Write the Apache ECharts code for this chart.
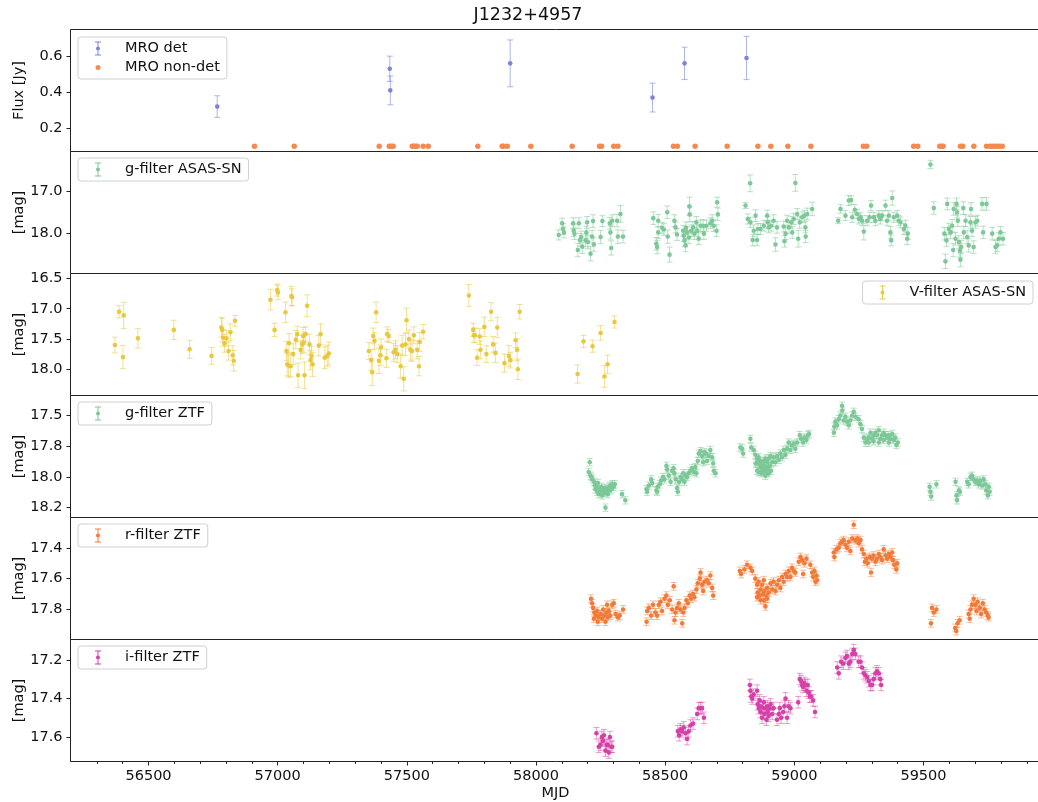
<!DOCTYPE html>
<html><head><meta charset="utf-8">
<script src="https://cdn.jsdelivr.net/npm/echarts@6/dist/echarts.min.js"></script>
<style>html,body{margin:0;padding:0;overflow:hidden;background:#fff}#c{width:1056px;height:802px}</style>
</head><body><div id="c"></div>
<script>
// ---------- DATA ----------
const title = 'J1232+4957';
const xMajorTicks = [56500, 57000, 57500, 58000, 58500, 59000, 59500];

// MRO detections [MJD, flux Jy, err]
const mroDet = [[56766,0.32,0.06],[57434,0.53,0.07],[57436,0.41,0.08],[57900,0.56,0.13],[58451,0.37,0.08],[58575,0.56,0.09],[58815,0.59,0.12]];
// MRO non-detections [MJD, flux Jy]
const mroNonDet = [[56910,0.1],[57064,0.1],[57393,0.1],[57432,0.1],[57440,0.1],[57447,0.1],[57521,0.1],[57527,0.1],[57534,0.1],[57540,0.1],[57563,0.1],[57583,0.1],[57775,0.1],[57869,0.1],[57875,0.1],[57889,0.1],[57980,0.1],[58140,0.1],[58246,0.1],[58254,0.1],[58301,0.1],[58317,0.1],[58532,0.1],[58547,0.1],[58616,0.1],[58740,0.1],[58859,0.1],[58909,0.1],[58975,0.1],[59064,0.1],[59267,0.1],[59280,0.1],[59462,0.1],[59478,0.1],[59563,0.1],[59570,0.1],[59576,0.1],[59643,0.1],[59652,0.1],[59695,0.1],[59744,0.1],[59757,0.1],[59766,0.1],[59775,0.1],[59785,0.1],[59795,0.1],[59805,0.1]];

// g-filter ASAS-SN [MJD, mag, err]
const gAsasSN = [
[58088,18.04,0.12],[58101,17.76,0.12],[58105,17.90,0.13],[58108,17.98,0.13],[58144,17.76,0.13],[58146,17.94,0.14],[58149,18.01,0.14],[58162,18.40,0.16],[58166,17.76,0.13],[58170,18.16,0.15],[58175,18.09,0.14],[58179,18.32,0.16],[58192,18.17,0.15],[58195,17.98,0.15],[58198,17.74,0.14],[58201,18.21,0.16],[58211,18.49,0.17],[58217,18.08,0.15],[58221,17.71,0.15],[58224,18.27,0.16],[58250,18.09,0.16],[58257,17.71,0.13],[58286,17.76,0.14],[58288,17.98,0.16],[58291,18.35,0.17],[58295,17.70,0.14],[58314,17.70,0.15],[58317,18.08,0.16],[58327,17.54,0.2],[58337,18.08,0.15],
[58454,17.64,0.15],[58466,18.25,0.15],[58469,18.33,0.16],[58473,17.70,0.15],[58473,17.98,0.14],[58488,17.87,0.13],[58495,17.91,0.14],[58508,17.50,0.15],[58510,18.08,0.16],[58517,18.51,0.18],[58536,17.70,0.14],[58540,17.86,0.13],[58546,18.03,0.14],[58570,17.94,0.13],[58572,18.06,0.14],[58575,18.17,0.15],[58579,18.29,0.15],[58581,17.87,0.14],[58585,17.98,0.14],[58592,18.10,0.15],[58594,17.36,0.22],[58595,17.55,0.18],[58601,17.94,0.14],[58608,17.86,0.14],[58613,18.01,0.14],[58621,17.74,0.14],[58624,17.94,0.14],[58630,18.13,0.14],[58637,17.82,0.14],[58647,17.82,0.14],[58650,18.01,0.14],[58660,17.82,0.13],[58675,17.76,0.13],[58682,17.70,0.14],[58688,17.82,0.14],[58699,17.94,0.14],[58701,17.26,0.12],[58704,17.55,0.15],
[58811,17.34,0.07],[58820,17.66,0.12],[58829,16.81,0.2],[58830,17.74,0.12],[58839,18.16,0.14],[58843,17.94,0.14],[58850,17.58,0.14],[58856,18.16,0.14],[58859,17.90,0.13],[58869,17.90,0.13],[58882,17.82,0.13],[58895,17.58,0.13],[58897,17.74,0.14],[58901,17.86,0.13],[58910,17.82,0.13],[58920,17.70,0.14],[58927,18.27,0.16],[58933,17.86,0.14],[58959,17.84,0.13],[58962,18.19,0.14],[58966,18.01,0.14],[58972,17.70,0.13],[58979,17.86,0.14],[58988,17.74,0.14],[58992,17.98,0.14],[58998,17.66,0.13],[59004,16.80,0.2],[59011,17.54,0.13],[59015,18.13,0.2],[59021,17.74,0.14],[59030,17.62,0.13],[59039,17.58,0.13],[59043,17.86,0.13],[59044,18.08,0.14],[59050,17.54,0.14],[59069,17.42,0.16],
[59170,17.70,0.07],[59179,17.42,0.1],[59198,17.58,0.12],[59211,17.22,0.12],[59220,17.21,0.1],[59224,17.62,0.12],[59234,17.44,0.12],[59243,17.54,0.11],[59250,17.66,0.12],[59256,17.62,0.12],[59263,17.70,0.12],[59269,17.96,0.2],[59282,17.70,0.12],[59292,17.62,0.12],[59297,17.34,0.12],[59308,17.62,0.12],[59314,17.70,0.12],[59327,17.58,0.12],[59333,17.66,0.12],[59340,17.58,0.12],[59353,17.34,0.13],[59359,17.70,0.12],[59366,17.58,0.12],[59372,17.98,0.14],[59375,18.17,0.13],[59379,17.16,0.17],[59385,17.62,0.12],[59398,17.58,0.12],[59404,17.70,0.12],[59411,17.74,0.13],[59424,17.90,0.13],[59430,17.82,0.13],[59437,18.13,0.14],[59439,18.01,0.14],
[59527,16.36,0.1],[59540,17.40,0.15],[59581,18.01,0.15],[59585,18.67,0.17],[59589,18.17,0.15],[59592,17.30,0.14],[59598,17.90,0.14],[59605,17.98,0.15],[59611,17.82,0.15],[59615,18.40,0.16],[59617,17.42,0.15],[59624,18.13,0.15],[59628,17.30,0.14],[59630,17.50,0.14],[59633,17.70,0.14],[59637,18.21,0.15],[59641,18.41,0.16],[59643,18.63,0.17],[59646,18.33,0.16],[59654,17.40,0.15],[59656,17.98,0.15],[59663,17.70,0.14],[59669,18.09,0.15],[59675,18.29,0.16],[59682,17.74,0.14],[59684,17.42,0.15],[59688,17.94,0.14],[59694,18.33,0.15],[59701,17.74,0.14],[59708,17.70,0.13],[59727,17.30,0.15],[59731,17.98,0.15],[59744,17.30,0.15],[59766,18.01,0.15],[59779,18.33,0.16],[59785,18.29,0.15],[59792,18.13,0.15],[59798,17.98,0.14],[59808,18.13,0.15]
];

// V-filter ASAS-SN [MJD, mag, err]
const vAsasSN = [
[56370,17.60,0.13],[56386,17.05,0.1],[56401,17.80,0.19],[56404,17.11,0.22],[56459,17.49,0.16],[56598,17.35,0.16],[56659,17.67,0.15],[56744,17.78,0.14],[56782,17.31,0.16],[56785,17.35,0.2],[56789,17.48,0.14],[56794,17.57,0.15],[56802,17.49,0.13],[56810,17.70,0.15],[56817,17.39,0.14],[56826,17.77,0.16],[56830,17.86,0.17],[56835,17.20,0.09],
[56972,16.85,0.17],[56988,17.35,0.11],[56998,16.69,0.1],[57001,16.73,0.12],[57030,17.06,0.17],[57034,17.70,0.16],[57037,17.92,0.19],[57042,17.94,0.19],[57044,17.57,0.16],[57050,17.95,0.18],[57053,16.79,0.16],[57056,16.81,0.14],[57060,17.75,0.17],[57070,17.51,0.15],[57076,17.42,0.13],[57079,18.10,0.2],[57089,17.68,0.15],[57095,17.59,0.15],[57099,17.45,0.14],[57101,17.56,0.16],[57104,18.10,0.22],[57108,17.42,0.12],[57114,16.95,0.18],[57123,17.59,0.17],[57127,17.85,0.16],[57131,17.78,0.16],[57135,17.92,0.2],[57159,17.61,0.17],[57166,17.42,0.17],[57182,17.81,0.18],[57192,17.78,0.18],[57198,17.74,0.19],
[57353,17.70,0.14],[57362,17.85,0.17],[57366,18.05,0.22],[57370,17.45,0.13],[57375,17.53,0.14],[57381,17.06,0.17],[57392,17.86,0.21],[57398,17.77,0.17],[57400,17.64,0.14],[57421,17.82,0.15],[57424,17.42,0.12],[57430,17.45,0.11],[57449,17.72,0.15],[57456,17.68,0.15],[57463,17.75,0.14],[57476,17.95,0.2],[57482,17.61,0.17],[57488,18.16,0.2],[57495,17.59,0.18],[57499,17.19,0.2],[57508,17.50,0.15],[57514,17.68,0.17],[57520,17.70,0.17],[57527,17.44,0.14],[57540,17.68,0.15],[57547,17.95,0.16],[57550,17.55,0.16],[57563,17.38,0.12],
[57740,16.78,0.18],[57757,17.35,0.11],[57759,17.44,0.12],[57764,17.44,0.12],[57772,17.81,0.13],[57782,17.46,0.13],[57785,17.68,0.15],[57800,17.30,0.16],[57808,17.75,0.14],[57826,17.05,0.15],[57834,17.59,0.13],[57843,17.73,0.16],[57850,17.31,0.17],[57878,17.90,0.15],[57895,17.78,0.17],[57901,17.85,0.13],[57921,17.52,0.12],[57927,17.68,0.18],[57930,18.00,0.17],[57937,17.05,0.12],
[58161,18.08,0.15],[58184,17.54,0.1],[58219,17.62,0.1],[58250,17.40,0.12],[58265,18.12,0.18],[58277,17.92,0.15],[58304,17.22,0.1]
];

// g-filter ZTF [MJD, mag, err]
const gZTF = [
[58208,17.88,0.03],[58204,17.96,0.03],[58211,17.99,0.03],[58215,18.00,0.03],[58218,18.02,0.03],[58225,18.04,0.03],[58228,18.07,0.03],[58230,18.10,0.03],[58234,18.08,0.03],[58237,18.12,0.03],[58240,18.05,0.03],[58243,18.14,0.03],[58246,18.10,0.03],[58250,18.12,0.03],[58253,18.08,0.03],[58256,18.15,0.03],[58260,18.11,0.03],[58263,18.13,0.03],[58266,18.09,0.03],[58269,18.25,0.03],[58272,18.12,0.03],[58275,18.10,0.03],[58278,18.14,0.03],[58282,18.08,0.03],[58285,18.11,0.03],[58288,18.07,0.03],[58292,18.10,0.03],[58295,18.06,0.03],[58301,18.08,0.03],[58305,18.06,0.03],[58333,18.14,0.03],[58346,18.19,0.03],
[58428,18.10,0.03],[58430,18.12,0.03],[58437,18.07,0.03],[58446,18.02,0.03],[58450,18.05,0.03],[58466,18.11,0.03],[58469,18.12,0.03],[58471,18.08,0.03],[58479,18.06,0.03],[58484,18.03,0.03],[58492,18.00,0.03],[58497,18.02,0.03],[58505,17.91,0.03],[58508,17.94,0.03],[58514,17.99,0.03],[58521,18.04,0.03],[58527,17.95,0.03],[58533,17.93,0.03],[58536,17.97,0.03],[58541,18.02,0.03],[58546,18.09,0.03],[58549,18.12,0.03],[58554,18.04,0.03],[58559,18.00,0.03],[58566,18.02,0.03],[58570,17.97,0.03],[58575,18.04,0.03],[58579,17.99,0.03],[58585,18.00,0.03],[58591,17.97,0.03],[58598,17.95,0.03],[58604,17.93,0.03],[58611,17.96,0.03],[58617,17.92,0.03],[58621,17.97,0.03],[58626,17.87,0.03],[58630,17.81,0.03],[58637,17.79,0.03],[58643,17.83,0.03],[58647,17.88,0.03],[58652,17.80,0.03],[58657,17.81,0.03],[58662,17.87,0.03],[58669,17.83,0.03],[58675,17.78,0.03],[58682,17.84,0.03],[58686,17.89,0.03],[58688,17.95,0.03],[58695,17.97,0.03],
[58791,17.76,0.03],[58798,17.77,0.03],[58802,17.81,0.03],[58830,17.69,0.03],[58833,17.76,0.03],[58843,17.78,0.03],[58849,17.82,0.03],[58856,17.85,0.03],[58858,17.88,0.03],[58862,17.84,0.03],[58866,17.90,0.03],[58869,17.87,0.03],[58871,17.92,0.03],[58875,17.89,0.03],[58879,17.94,0.03],[58882,17.91,0.03],[58886,17.95,0.03],[58888,17.99,0.03],[58892,17.92,0.03],[58895,17.88,0.03],[58897,17.93,0.03],[58901,17.85,0.03],[58905,17.91,0.03],[58908,17.83,0.03],[58914,17.88,0.03],[58920,17.84,0.03],[58927,17.88,0.03],[58933,17.83,0.03],[58940,17.86,0.03],[58946,17.81,0.03],[58953,17.84,0.03],[58959,17.78,0.03],[58966,17.82,0.03],[58972,17.77,0.03],[58978,17.72,0.03],[58985,17.78,0.03],[58991,17.74,0.03],[58998,17.73,0.03],[59004,17.77,0.03],[59011,17.72,0.03],[59021,17.66,0.03],[59026,17.69,0.03],[59034,17.72,0.03],[59039,17.68,0.03],[59047,17.70,0.03],[59052,17.66,0.03],[59057,17.65,0.03],
[58850,17.89,0.03],[58856,17.95,0.03],[58862,17.96,0.03],[58869,17.96,0.03],[58875,17.97,0.03],[58882,17.87,0.03],[58888,17.85,0.03],[58895,17.96,0.03],[58901,17.97,0.03],[58910,17.95,0.03],
[59153,17.64,0.03],[59155,17.59,0.03],[59159,17.55,0.03],[59166,17.58,0.03],[59172,17.53,0.03],[59178,17.50,0.03],[59185,17.42,0.03],[59186,17.46,0.03],[59191,17.54,0.03],[59198,17.51,0.03],[59204,17.55,0.03],[59211,17.58,0.03],[59217,17.54,0.03],[59224,17.50,0.03],[59230,17.47,0.03],[59237,17.51,0.03],[59249,17.53,0.03],[59256,17.57,0.03],[59262,17.61,0.03],[59269,17.68,0.03],[59275,17.72,0.03],[59282,17.69,0.03],[59288,17.68,0.03],[59295,17.64,0.03],[59301,17.69,0.03],[59307,17.66,0.03],[59314,17.64,0.03],[59320,17.66,0.03],[59327,17.62,0.03],[59333,17.69,0.03],[59340,17.66,0.03],[59346,17.64,0.03],[59353,17.66,0.03],[59359,17.68,0.03],[59366,17.66,0.03],[59372,17.69,0.03],[59379,17.65,0.03],[59385,17.70,0.03],[59391,17.68,0.03],[59395,17.74,0.03],[59401,17.72,0.03],[59288,17.72,0.03],[59307,17.71,0.03],[59327,17.72,0.03],[59346,17.70,0.03],[59366,17.72,0.03],
[59524,18.08,0.03],[59527,18.12,0.03],[59530,18.16,0.03],[59550,18.06,0.03],[59624,18.04,0.03],[59628,18.15,0.03],[59630,18.19,0.03],[59637,18.11,0.03],[59641,18.12,0.03],[59669,18.04,0.03],[59675,18.06,0.03],[59682,18.00,0.03],[59688,17.99,0.03],[59694,18.02,0.03],[59701,18.04,0.03],[59708,18.03,0.03],[59714,18.06,0.03],[59720,18.03,0.03],[59727,18.07,0.03],[59733,18.02,0.03],[59740,18.06,0.03],[59743,18.11,0.03],[59749,18.15,0.03],[59753,18.08,0.03],[59756,18.12,0.03]
];

// r-filter ZTF [MJD, mag, err]
const rZTF = [
[58213,17.73,0.025],[58217,17.76,0.025],[58221,17.79,0.025],[58226,17.82,0.025],[58232,17.84,0.025],[58237,17.81,0.025],[58243,17.85,0.025],[58250,17.83,0.025],[58256,17.86,0.025],[58263,17.84,0.025],[58269,17.88,0.025],[58273,17.82,0.025],[58278,17.85,0.025],[58282,17.81,0.025],[58288,17.84,0.025],[58295,17.77,0.025],[58301,17.76,0.025],[58308,17.83,0.025],[58317,17.85,0.025],[58324,17.84,0.025],[58337,17.80,0.025],[58224,17.86,0.025],[58239,17.88,0.025],[58260,17.80,0.025],[58275,17.77,0.025],
[58428,17.88,0.025],[58430,17.81,0.025],[58437,17.79,0.025],[58446,17.84,0.025],[58453,17.77,0.025],[58462,17.82,0.025],[58469,17.84,0.025],[58475,17.77,0.025],[58482,17.75,0.025],[58488,17.81,0.025],[58497,17.73,0.025],[58505,17.71,0.025],[58510,17.77,0.025],[58518,17.74,0.025],[58527,17.80,0.025],[58533,17.65,0.025],[58536,17.87,0.025],[58540,17.82,0.025],[58546,17.79,0.025],[58553,17.76,0.025],[58559,17.80,0.025],[58566,17.89,0.025],[58570,17.82,0.025],[58575,17.79,0.025],[58582,17.74,0.025],[58588,17.76,0.025],[58595,17.71,0.025],[58600,17.73,0.025],[58608,17.70,0.025],[58613,17.72,0.025],[58621,17.67,0.025],[58626,17.63,0.025],[58634,17.60,0.025],[58637,17.56,0.025],[58643,17.64,0.025],[58647,17.68,0.025],[58652,17.62,0.025],[58662,17.61,0.025],[58669,17.63,0.025],[58675,17.58,0.025],[58682,17.66,0.025],[58686,17.71,0.025],
[58789,17.55,0.025],[58794,17.57,0.025],[58807,17.54,0.025],[58817,17.51,0.025],[58830,17.53,0.025],[58837,17.55,0.025],[58849,17.60,0.025],[58856,17.64,0.025],[58858,17.69,0.025],[58862,17.62,0.025],[58866,17.71,0.025],[58869,17.67,0.025],[58875,17.64,0.025],[58879,17.70,0.025],[58882,17.74,0.025],[58884,17.68,0.025],[58888,17.78,0.025],[58892,17.71,0.025],[58895,17.66,0.025],[58901,17.69,0.025],[58908,17.63,0.025],[58914,17.67,0.025],[58920,17.62,0.025],[58927,17.68,0.025],[58933,17.64,0.025],[58940,17.61,0.025],[58946,17.66,0.025],[58953,17.59,0.025],[58959,17.62,0.025],[58966,17.57,0.025],[58972,17.59,0.025],[58978,17.55,0.025],[58985,17.59,0.025],[58991,17.53,0.025],[58998,17.55,0.025],[59004,17.56,0.025],[59017,17.49,0.025],[59024,17.46,0.025],[59030,17.48,0.025],[59034,17.57,0.025],[59039,17.50,0.025],[59047,17.47,0.025],[59062,17.51,0.025],[59069,17.56,0.025],[59073,17.59,0.025],[59078,17.55,0.025],[59082,17.62,0.025],[59086,17.58,0.025],[59088,17.61,0.025],[58856,17.72,0.025],[58869,17.74,0.025],[58882,17.61,0.025],[58895,17.73,0.025],
[59153,17.43,0.025],[59155,17.46,0.025],[59163,17.41,0.025],[59172,17.40,0.025],[59178,17.37,0.025],[59185,17.36,0.025],[59191,17.35,0.025],[59198,17.38,0.025],[59204,17.40,0.025],[59211,17.36,0.025],[59217,17.42,0.025],[59224,17.34,0.025],[59230,17.25,0.025],[59236,17.35,0.025],[59245,17.34,0.025],[59249,17.37,0.025],[59256,17.35,0.025],[59262,17.41,0.025],[59269,17.44,0.025],[59273,17.49,0.025],[59279,17.47,0.025],[59284,17.50,0.025],[59292,17.46,0.025],[59297,17.56,0.025],[59301,17.47,0.025],[59307,17.45,0.025],[59314,17.49,0.025],[59320,17.47,0.025],[59327,17.44,0.025],[59333,17.46,0.025],[59340,17.48,0.025],[59346,17.41,0.025],[59353,17.45,0.025],[59359,17.47,0.025],[59366,17.44,0.025],[59372,17.46,0.025],[59379,17.43,0.025],[59382,17.48,0.025],[59387,17.51,0.025],[59395,17.54,0.025],[59398,17.50,0.025],
[59529,17.89,0.025],[59533,17.79,0.025],[59540,17.82,0.025],[59550,17.80,0.025],[59623,17.92,0.025],[59627,17.94,0.025],[59632,17.89,0.025],[59640,17.87,0.025],[59675,17.83,0.025],[59679,17.86,0.025],[59682,17.80,0.025],[59688,17.77,0.025],[59694,17.73,0.025],[59701,17.77,0.025],[59705,17.81,0.025],[59710,17.75,0.025],[59718,17.79,0.025],[59723,17.83,0.025],[59730,17.76,0.025],[59736,17.80,0.025],[59743,17.82,0.025],[59749,17.84,0.025],[59752,17.85,0.025]
];

// i-filter ZTF [MJD, mag, err]
const iZTF = [
[58234,17.58,0.03],[58243,17.65,0.03],[58250,17.64,0.03],[58255,17.60,0.03],[58260,17.62,0.03],[58263,17.59,0.03],[58269,17.67,0.03],[58273,17.64,0.03],[58278,17.64,0.03],[58282,17.68,0.03],[58286,17.60,0.03],[58291,17.65,0.03],[58295,17.65,0.03],
[58549,17.57,0.03],[58554,17.59,0.03],[58559,17.56,0.03],[58566,17.57,0.03],[58572,17.55,0.03],[58579,17.58,0.03],[58585,17.61,0.03],[58591,17.57,0.03],[58598,17.54,0.03],[58608,17.53,0.03],[58624,17.48,0.03],[58630,17.45,0.03],[58637,17.45,0.03],[58643,17.45,0.03],[58650,17.50,0.03],
[58828,17.33,0.03],[58830,17.36,0.03],[58833,17.39,0.03],[58837,17.40,0.03],[58843,17.38,0.03],[58856,17.36,0.03],[58858,17.43,0.03],[58862,17.45,0.03],[58866,17.41,0.03],[58869,17.47,0.03],[58871,17.44,0.03],[58875,17.50,0.03],[58879,17.45,0.03],[58882,17.42,0.03],[58884,17.48,0.03],[58888,17.45,0.03],[58892,17.51,0.03],[58895,17.44,0.03],[58897,17.47,0.03],[58901,17.49,0.03],[58905,17.45,0.03],[58908,17.43,0.03],[58914,17.48,0.03],[58920,17.45,0.03],[58933,17.51,0.03],[58940,17.48,0.03],[58944,17.45,0.03],[58949,17.50,0.03],[58957,17.47,0.03],[58962,17.44,0.03],[58966,17.40,0.03],[58972,17.50,0.03],[58978,17.44,0.03],[58985,17.45,0.03],
[59015,17.42,0.03],[59021,17.30,0.03],[59026,17.31,0.03],[59030,17.33,0.03],[59034,17.34,0.03],[59039,17.32,0.03],[59043,17.33,0.03],[59047,17.36,0.03],[59052,17.33,0.03],[59056,17.37,0.03],[59060,17.39,0.03],[59065,17.39,0.03],[59073,17.41,0.03],[59080,17.47,0.03],
[59166,17.24,0.03],[59172,17.27,0.03],[59181,17.21,0.03],[59189,17.22,0.03],[59198,17.19,0.03],[59204,17.18,0.03],[59211,17.22,0.03],[59217,17.21,0.03],[59224,17.17,0.03],[59230,17.15,0.03],[59236,17.17,0.03],[59249,17.21,0.03],[59256,17.21,0.03],[59262,17.24,0.03],[59269,17.27,0.03],[59275,17.28,0.03],[59282,17.29,0.03],[59288,17.31,0.03],[59295,17.33,0.03],[59301,17.33,0.03],[59307,17.30,0.03],[59314,17.27,0.03],[59320,17.26,0.03],[59327,17.27,0.03],[59333,17.30,0.03],[59336,17.33,0.03]
];

// y tick values and labels per panel
const yTicks = [[0.2,0.4,0.6],[17.0,18.0],[16.5,17.0,17.5,18.0],[17.5,17.75,18.0,18.25],[17.4,17.6,17.8],[17.2,17.4,17.6]];
const yTickLabels = [['0.2','0.4','0.6'],['17.0','18.0'],['16.5','17.0','17.5','18.0'],['17.5','17.8','18.0','18.2'],['17.4','17.6','17.8'],['17.2','17.4','17.6']];
const yNames = ['Flux [Jy]','[mag]','[mag]','[mag]','[mag]','[mag]'];

// ---------- CHART ----------
const FONT = 'DejaVu Sans';
const X_MIN = 56198, X_MAX = 59953;
const yRanges = [[0.0706,0.748],[16.05,18.96],[16.417,18.435],[17.337,18.33],[17.203,17.995],[17.095,17.726]];
const yInverse = [false,true,true,true,true,true];
const tops = [29.5,151.5,273.5,395.5,517.5,639.5];
const H = 122;

const C = {
  det:'#7b84d8', detBar:'rgba(123,132,216,0.6)',
  non:'#f58a51',
  g:'#7dc898', gBar:'rgba(125,200,152,0.55)',
  v:'#e8c83e', vBar:'rgba(232,200,62,0.55)',
  r:'#f27b39', rBar:'rgba(242,123,57,0.5)',
  i:'#d541a8', iBar:'rgba(213,65,168,0.5)'
};

function errRender(dot, bar, r, cap){
  return function(params, api){
    const x = api.value(0), y = api.value(1), e = api.value(2);
    const c = api.coord([x, y]), a = api.coord([x, y - e]), b = api.coord([x, y + e]);
    const st = {stroke: bar, lineWidth: 1};
    return {type:'group', children:[
      {type:'line', shape:{x1:c[0],y1:a[1],x2:c[0],y2:b[1]}, style:st},
      {type:'line', shape:{x1:c[0]-cap,y1:a[1],x2:c[0]+cap,y2:a[1]}, style:st},
      {type:'line', shape:{x1:c[0]-cap,y1:b[1],x2:c[0]+cap,y2:b[1]}, style:st},
      {type:'circle', shape:{cx:c[0],cy:c[1],r:r}, style:{fill:dot}}
    ]};
  };
}

const errIcon = 'path://M0,0H6V1H0Z M2.5,1H3.5V13H2.5Z M0,13H6V14H0Z M3,5A2,2 0 1,1 2.99,5Z';
const dotIcon = 'path://M3,0M3,14M0.5,7A2.5,2.5 0 1,1 5.5,7A2.5,2.5 0 1,1 0.5,7Z';

const grids = tops.map(t => ({left:70.5, width:970, top:t, height:H, show:true, borderColor:'#222', borderWidth:1, backgroundColor:'transparent'}));

const xAxes = tops.map((t, k) => ({
  type:'value', gridIndex:k, min:X_MIN, max:X_MAX, position:'bottom',
  axisLine:{show:false}, splitLine:{show:false},
  axisTick: k===5 ? {show:true, length:4, lineStyle:{color:'#222'}, customValues:xMajorTicks} : {show:false},
  axisLabel: k===5 ? {show:true, customValues:xMajorTicks, margin:7, fontFamily:FONT, fontSize:14.5, color:'#111', formatter:(v)=>String(v)} : {show:false},
  name: k===5 ? 'MJD' : '', nameLocation:'middle', nameGap:24, nameMoveOverlap:false,
  nameTextStyle:{fontFamily:FONT, fontSize:14.5, color:'#111'}
}));
const minorTicks = [];
for (let v = 56300; v <= 59900; v += 100) if (v % 500 !== 0) minorTicks.push(v);
xAxes.push({type:'value', gridIndex:5, min:X_MIN, max:X_MAX, position:'bottom',
  axisLine:{show:false}, splitLine:{show:false}, axisLabel:{show:false},
  axisTick:{show:true, length:2.5, lineStyle:{color:'#222'}, customValues:minorTicks}});

const yAxes = tops.map((t, k) => ({
  type:'value', gridIndex:k, min:yRanges[k][0], max:yRanges[k][1], inverse:yInverse[k],
  axisLine:{show:false}, splitLine:{show:false},
  axisTick:{show:true, length:4, lineStyle:{color:'#222'}, customValues:yTicks[k]},
  axisLabel:{show:true, customValues:yTicks[k], margin:8, fontFamily:FONT, fontSize:14.5, color:'#111',
    formatter:(v) => { const idx = yTicks[k].findIndex(u => Math.abs(u - v) < 1e-6); return idx >= 0 ? yTickLabels[k][idx] : ''; }},
  name:yNames[k], nameLocation:'middle', nameGap:44, nameRotate:90, nameMoveOverlap:false,
  nameTextStyle:{fontFamily:FONT, fontSize:14.5, color:'#111'}
}));

function errSeries(name, data, k, dot, bar){
  return {name, type:'custom', xAxisIndex:k, yAxisIndex:k, data, encode:{x:0,y:1},
    renderItem: errRender(dot, bar, 2.3, 3), itemStyle:{color:dot}, silent:true, animation:false};
}

const series = [
  errSeries('MRO det', mroDet, 0, C.det, C.detBar),
  {name:'MRO non-det', type:'scatter', xAxisIndex:0, yAxisIndex:0, data:mroNonDet, symbol:'circle', symbolSize:5.5, itemStyle:{color:C.non, opacity:1}, silent:true, animation:false},
  errSeries('g-filter ASAS-SN', gAsasSN, 1, C.g, C.gBar),
  errSeries('V-filter ASAS-SN', vAsasSN, 2, C.v, C.vBar),
  errSeries('g-filter ZTF', gZTF, 3, C.g, C.gBar),
  errSeries('r-filter ZTF', rZTF, 4, C.r, C.rBar),
  errSeries('i-filter ZTF', iZTF, 5, C.i, C.iBar)
];

const legBase = {orient:'vertical', backgroundColor:'#fff', borderColor:'#d0d0d0', borderWidth:1, borderRadius:3,
  padding:[4,7,4,17], itemWidth:6, itemHeight:14, itemGap:4, selectedMode:false,
  textStyle:{fontFamily:FONT, fontSize:14.5, color:'#111', padding:[0,0,0,19]}};
const legends = [
  Object.assign({}, legBase, {left:78, top:37, data:[{name:'MRO det', icon:errIcon},{name:'MRO non-det', icon:dotIcon}]}),
  Object.assign({}, legBase, {left:78, top:158, data:[{name:'g-filter ASAS-SN', icon:errIcon}]}),
  Object.assign({}, legBase, {right:23, top:281, data:[{name:'V-filter ASAS-SN', icon:errIcon}]}),
  Object.assign({}, legBase, {left:78, top:402, data:[{name:'g-filter ZTF', icon:errIcon}]}),
  Object.assign({}, legBase, {left:78, top:524, data:[{name:'r-filter ZTF', icon:errIcon}]}),
  Object.assign({}, legBase, {left:78, top:646, data:[{name:'i-filter ZTF', icon:errIcon}]})
];

const chart = echarts.init(document.getElementById('c'), null, {renderer:'canvas'});
chart.setOption({
  animation:false,
  backgroundColor:'#fff',
  textStyle:{fontFamily:FONT},
  title:{text:title, left:'center', top:6, padding:0, textStyle:{fontFamily:FONT, fontSize:17.5, fontWeight:'normal', color:'#111'}},
  grid:grids, xAxis:xAxes, yAxis:yAxes, legend:legends, series
});
</script></body></html>
